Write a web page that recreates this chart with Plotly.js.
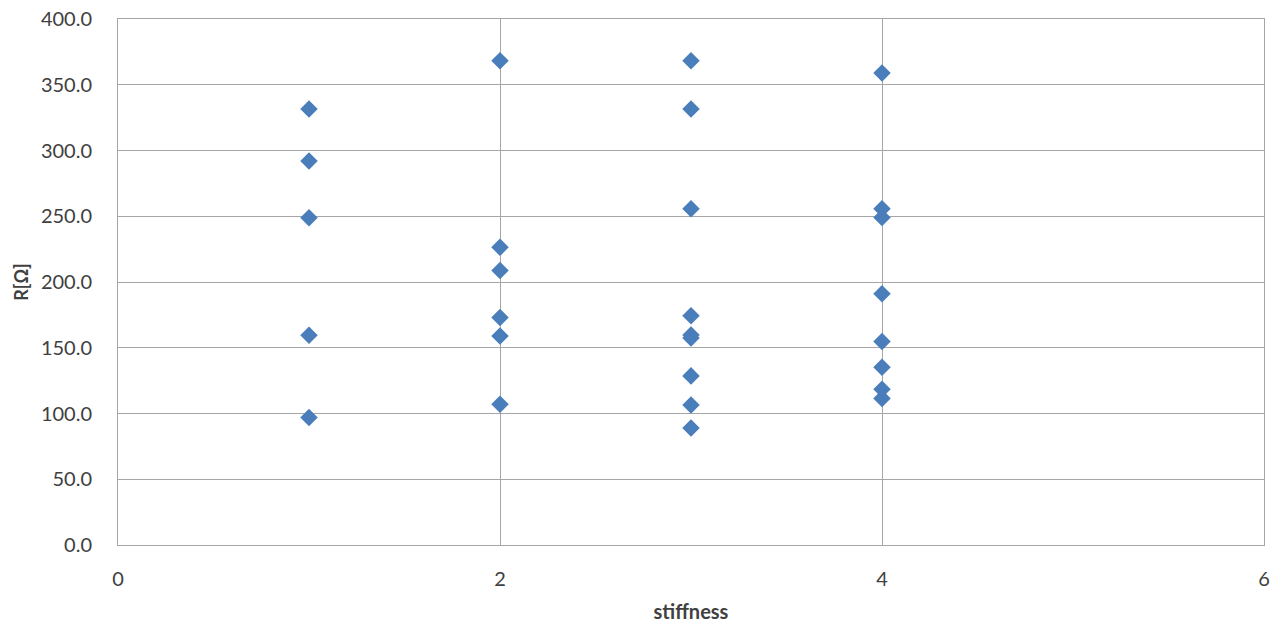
<!DOCTYPE html>
<html>
<head>
<meta charset="utf-8">
<script src="https://cdn.plot.ly/plotly-3.0.1.min.js"></script>
<style>
  html, body { margin: 0; padding: 0; background: #ffffff; }
  #chart { width: 1282px; height: 623px; }
</style>
</head>
<body>
<div id="chart"></div>
<script>
// Resistance measurements grouped by stiffness level
const stiffness = [
  1, 1, 1, 1, 1,
  2, 2, 2, 2, 2, 2,
  3, 3, 3, 3, 3, 3, 3, 3, 3,
  4, 4, 4, 4, 4, 4, 4, 4
];
const resistance = [
  331.5, 292.0, 248.8, 159.5, 97.0,
  368.3, 226.4, 208.7, 173.0, 159.0, 107.0,
  368.3, 331.5, 255.7, 174.3, 159.7, 157.5, 128.6, 106.5, 89.0,
  359.0, 255.7, 249.0, 191.0, 154.8, 135.2, 118.5, 111.5
];
const xTicks = [0, 2, 4, 6];
const yTicks = [0, 50, 100, 150, 200, 250, 300, 350, 400];

const fontFamily = "Lato, 'Open Sans', 'Liberation Sans', sans-serif";
const textColor = "#404040";
const gridColor = "#a6a6a6";

const trace = {
  type: "scatter",
  mode: "markers",
  x: stiffness,
  y: resistance,
  marker: { symbol: "diamond", size: 13.5, color: "#4a7ebb", line: { width: 0 } },
  hoverinfo: "x+y"
};

const layout = {
  width: 1282,
  height: 623,
  margin: { l: 118, r: 18, t: 19, b: 78 },
  paper_bgcolor: "#ffffff",
  plot_bgcolor: "#ffffff",
  showlegend: false,
  font: { family: fontFamily, size: 20, color: textColor },
  xaxis: {
    range: [0, 6],
    tickvals: xTicks,
    ticktext: xTicks.map(String),
    showgrid: true,
    gridcolor: gridColor,
    gridwidth: 1,
    zeroline: false,
    showline: true,
    linecolor: gridColor,
    linewidth: 1,
    mirror: true,
    ticks: "",
    ticklabelstandoff: 16,
    tickfont: { family: fontFamily, size: 20, color: textColor },
    title: {
      text: "<b>stiffness</b>",
      font: { family: fontFamily, size: 20, color: textColor },
      standoff: 18
    }
  },
  yaxis: {
    range: [0, 400],
    tickvals: yTicks,
    ticktext: yTicks.map(v => v.toFixed(1)),
    showgrid: true,
    gridcolor: gridColor,
    gridwidth: 1,
    zeroline: false,
    showline: true,
    linecolor: gridColor,
    linewidth: 1,
    mirror: true,
    ticks: "",
    ticklabelstandoff: 21,
    tickfont: { family: fontFamily, size: 20, color: textColor },
    title: {
      text: "<b>R[Ω]</b>",
      font: { family: fontFamily, size: 18, color: textColor },
      standoff: 7
    }
  }
};

Plotly.newPlot("chart", [trace], layout, { staticPlot: true, displayModeBar: false });
</script>
</body>
</html>
